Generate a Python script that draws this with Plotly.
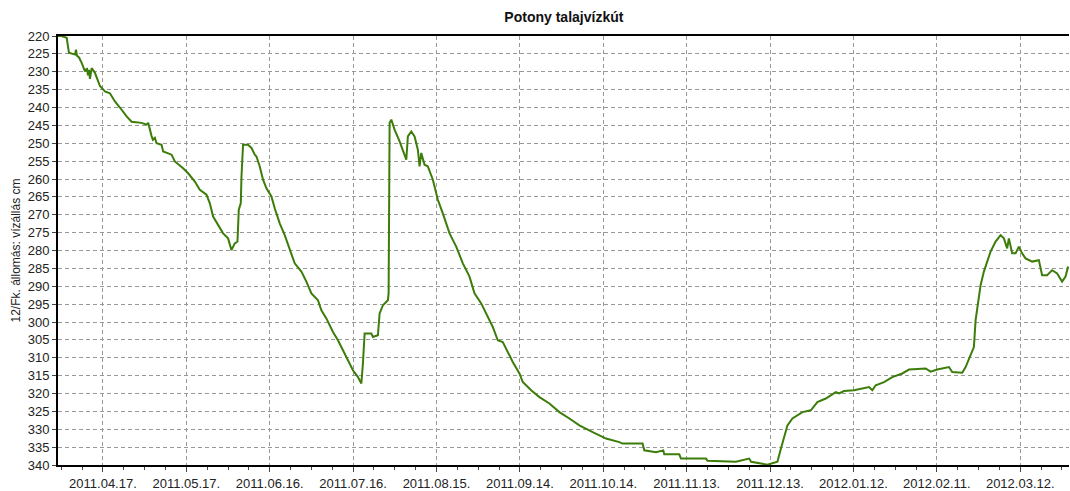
import datetime as dt
import plotly.graph_objects as go

# ---- data ----
base_date = "2011-04-17"  # reference date for the day offsets below
day_offsets = [
    -16.17, -14.9, -13.04, -12.22, -10.06, -9.70, -9.34, -8.62, -7.65, -6.47,
    -5.75, -5.39, -5.03, -4.67, -4.06, -3.59, -2.87, -1.08, 0.72, 2.52,
    4.31, 6.11, 8.52, 10.31, 13.91, 15.70, 16.28, 17.50, 17.97, 18.68,
    19.30, 21.09, 21.67, 24.69, 25.87, 28.85, 30.65, 33.06, 34.85, 37.26,
    38.45, 39.63, 41.43, 43.23, 45.02, 46.24, 47.43, 48.40, 48.87, 49.59,
    49.84, 50.41, 52.21, 53.43, 54.62, 55.23, 56.41, 57.60, 58.82, 60.62,
    61.80, 63.60, 65.40, 67.19, 68.99, 71.40, 73.19, 74.99, 77.36, 78.58,
    80.38, 82.75, 84.55, 86.35, 88.14, 89.94, 91.74, 92.96, 93.53, 94.14,
    96.55, 97.13, 98.92, 99.53, 100.72, 102.52, 102.77, 103.13, 103.74, 104.92,
    106.72, 107.91, 109.13, 109.70, 110.92, 112.11, 113.29, 113.91, 114.52, 115.70,
    116.89, 118.69, 120.48, 122.28, 124.69, 127.09, 129.47, 131.87, 133.67, 136.08,
    137.87, 140.25, 142.04, 143.84, 146.24, 147.43, 149.84, 151.02, 154.04, 157.02,
    160.62, 164.21, 167.80, 171.40, 176.18, 180.99, 185.77, 186.96, 194.14, 194.75,
    198.96, 201.58, 201.94, 207.33, 207.94, 216.92, 217.50, 227.70, 232.48, 233.20,
    239.06, 242.65, 243.87, 245.06, 246.25, 248.04, 249.84, 251.64, 254.65, 257.02,
    260.04, 263.63, 264.82, 266.62, 270.21, 275.60, 276.79, 278.01, 280.99, 283.97,
    287.57, 289.97, 295.97, 297.77, 300.14, 304.35, 305.53, 309.13, 310.35, 312.15,
    313.33, 313.94, 314.88, 315.74, 316.92, 318.11, 319.33, 321.13, 322.93, 324.11,
    325.30, 325.91, 327.10, 328.32, 329.50, 330.69, 331.91, 334.28, 336.69, 337.87,
    339.67, 341.47, 343.27, 345.06, 346.29, 347.22,
]
water_level_cm = [
    220, 220, 220.5, 224.7, 225.2, 223.8, 225.5, 226, 227.5, 229.9,
    229, 231, 229.5, 232, 229, 229.5, 230.3, 234, 235.5, 236,
    238.3, 240, 242.5, 244, 244.3, 244.8, 244.3, 248, 249, 248.5,
    250, 250.4, 252.3, 253.2, 255.1, 257, 258.4, 260.7, 263, 264.4,
    266.8, 270.5, 272.8, 275.2, 276.6, 279.9, 278, 277.5, 268.6, 266.8,
    259.3, 250.4, 250.4, 251.3, 253.2, 253.7, 256.5, 260.2, 262.6, 264.9,
    268.2, 272.4, 275.7, 279.4, 283.6, 285.9, 288.7, 292, 293.9, 296.7,
    299, 302.8, 305.1, 307.9, 310.7, 313.5, 315.4, 317.2, 311.6, 303.2,
    303.2, 304.2, 303.7, 297.6, 295.3, 293.9, 292, 244.3, 243.4, 246.2,
    249.5, 252.3, 254.6, 248.1, 246.7, 248.1, 251.8, 256.5, 252.7, 256,
    256.5, 260.2, 265.8, 269.6, 275.2, 278.9, 283.6, 287.3, 292, 294.8,
    297.6, 301.4, 305.1, 305.6, 309.3, 311.2, 314.4, 316.8, 319.1, 321,
    322.8, 325.2, 327, 328.9, 330.8, 332.6, 333.6, 334, 334, 335.9,
    336.4, 335.9, 337, 337, 338.2, 338.2, 338.8, 339.1, 338.2, 339.1,
    339.9, 339.1, 335.5, 332.2, 328.9, 327, 326.1, 325.2, 324.7, 322.4,
    321.4, 319.6, 320, 319.3, 319.1, 318.2, 319.1, 317.7, 316.8, 315.4,
    314.4, 313.3, 313, 313.9, 313.3, 312.6, 314, 314.2, 312.6, 309.3,
    307, 299.5, 294.8, 289.7, 285.9, 283.1, 280.3, 277.5, 275.7, 276.6,
    279.4, 276.6, 280.8, 280.8, 278.9, 280.8, 282.2, 283.1, 282.7, 286.9,
    286.9, 285.5, 286.4, 288.7, 287.3, 284.5,
]
title_text = "Potony talajvízkút"
y_title = "12/Fk. állomás: vízállás cm"
x_range = ["2011-03-31 20:00", "2012-03-29 13:00"]
y_range = [340, 220]

base = dt.datetime.fromisoformat(base_date)
dates = [base + dt.timedelta(days=d) for d in day_offsets]

DAY_MS = 86400000
font_family = "Liberation Sans, Arial, sans-serif"

fig = go.Figure()
fig.add_trace(go.Scatter(
    x=dates, y=water_level_cm, mode="lines",
    line=dict(color="rgb(60,125,10)", width=2),
    showlegend=False, hoverinfo="x+y",
))

fig.update_layout(
    width=1070, height=491,
    margin=dict(l=58, r=1, t=36, b=26),
    paper_bgcolor="white", plot_bgcolor="white",
    font=dict(family=font_family, size=13, color="#222"),
    title=dict(text="<b>" + title_text + "</b>", x=0.527, xanchor="center",
               y=1 - 17 / 491, yanchor="middle", yref="container",
               font=dict(size=14, color="#111")),
)
fig.update_xaxes(
    type="date", range=x_range,
    tick0="2011-04-17", dtick=30 * DAY_MS, tickformat="%Y.%m.%d.",
    ticks="outside", ticklen=5, tickcolor="#444", tickwidth=1,
    showgrid=True, gridcolor="#999", griddash="4px,3px", gridwidth=1,
    minor=dict(tick0="2011-04-17", dtick=7.5 * DAY_MS, ticks="outside",
               ticklen=3, tickcolor="#444", showgrid=False),
    showline=True, linecolor="black", linewidth=2, mirror=True,
    tickfont=dict(size=13, color="#222"), zeroline=False,
)
fig.update_yaxes(
    range=y_range, tick0=220, dtick=5,
    ticks="outside", ticklen=4, tickcolor="#444",
    showgrid=True, gridcolor="#999", griddash="4px,3px", gridwidth=1,
    showline=True, linecolor="black", linewidth=2,
    tickfont=dict(size=13, color="#222"), zeroline=False,
    title=dict(text=y_title, font=dict(size=12, color="#222"), standoff=4),
)

fig.write_html(
    "out.html",
    config={"displayModeBar": False},
    post_script="document.body.style.margin='0';document.body.style.overflow='hidden';",
)
